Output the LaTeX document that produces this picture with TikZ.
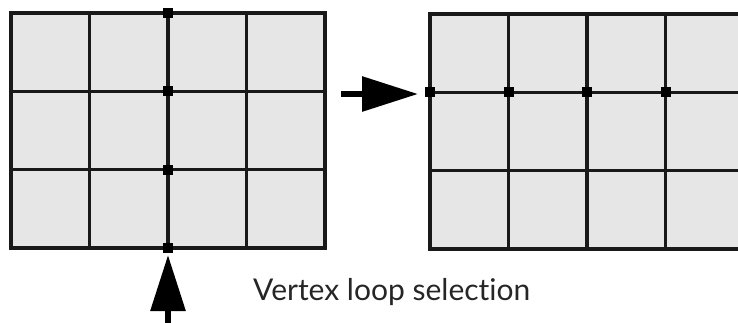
\documentclass[tikz,border=0pt]{standalone}
\usepackage{fontspec}
\setmainfont{Lato}[Ligatures=NoCommon]
\usetikzlibrary{arrows.meta}
\definecolor{cellgray}{HTML}{E6E6E6}
\begin{document}
\begin{tikzpicture}[x=1pt,y=-1pt,
  gridline/.style={line width=3.3pt, line cap=rect, draw=black!90},
  vdot/.style={fill=black, inner sep=0pt, minimum size=10pt, draw=none, rectangle},
  bigarrow/.style={line width=6pt, -{Triangle[length=56pt,width=34pt]}},
  lbl/.style={font=\fontsize{30}{35}\selectfont, text=black!85, anchor=base west, inner sep=0pt}]
\useasboundingbox (0,0) rectangle (738,322);
\begin{scope}
\clip (0,0) rectangle (738,322);
% left grid
\fill[cellgray] (11,13) rectangle (325,248);
\foreach \i in {0,...,4} \draw[gridline] ({11+78.5*\i},13) -- ({11+78.5*\i},248);
\foreach \j in {0,...,3} \draw[gridline] (11,{13+78.33*\j}) -- (325,{13+78.33*\j});
% right grid
\fill[cellgray] (430,14) rectangle (744,249);
\foreach \i in {0,...,4} \draw[gridline] ({430+78.5*\i},14) -- ({430+78.5*\i},249);
\foreach \j in {0,...,3} \draw[gridline] (430,{14+78.33*\j}) -- (744,{14+78.33*\j});
% selected vertices, left
\node[vdot] (l0) at (168,13) {};
\node[vdot] (l1) at (168,91.3) {};
\node[vdot] (l2) at (168,169.7) {};
\node[vdot] (l3) at (168,248) {};
% selected vertices, right
\node[vdot] (r0) at (430,92.3) {};
\node[vdot] (r1) at (508.5,92.3) {};
\node[vdot] (r2) at (587,92.3) {};
\node[vdot] (r3) at (665.5,92.3) {};
\node[vdot] (r4) at (744,92.3) {};
% arrows
\coordinate (a1) at (341,94);
\coordinate (a1t) at (418,94);
\draw[bigarrow] (a1) -- (a1t);
\coordinate (a2) at (168,330);
\coordinate (a2t) at (168,255);
\draw[bigarrow] (a2) -- (a2t);
\end{scope}
\node[lbl] (cap) at (253,300) {Vertex loop selection};
\end{tikzpicture}
\end{document}
